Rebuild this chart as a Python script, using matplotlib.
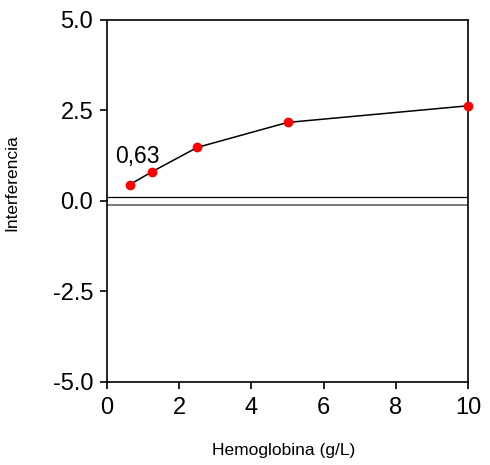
import matplotlib
matplotlib.use('Agg')
import matplotlib.pyplot as plt

plt.rcParams['font.family'] = ['Liberation Sans', 'DejaVu Sans']
plt.rcParams['axes.unicode_minus'] = False

hemoglobina = [0.625, 1.25, 2.5, 5, 10]
interferencia = [0.45, 0.81, 1.48, 2.17, 2.63]
limite_sup = 0.1
limite_inf = -0.1
etiqueta = '0,63'
xticks = [0, 2, 4, 6, 8, 10]
yticks = [-5.0, -2.5, 0.0, 2.5, 5.0]

fig = plt.figure(figsize=(4.9, 4.65), dpi=100)
ax = fig.add_axes([0.2184, 0.1785, 0.7368, 0.7785])

ax.axhline(limite_sup, color='black', lw=0.9)
ax.axhline(limite_inf, color='#707070', lw=1.3)
ax.plot(hemoglobina, interferencia, color='black', lw=1.1, marker='o',
        markersize=6, markerfacecolor='red', markeredgecolor='red', clip_on=False, zorder=3)
ax.text(0.83, 1.23, etiqueta, fontsize=16.5, ha='center', va='center')

ax.set_xlim(0, 10)
ax.set_ylim(-5, 5)
ax.set_xticks(xticks)
ax.set_yticks(yticks)
ax.set_yticklabels(['%.1f' % v for v in yticks])
ax.tick_params(direction='out', length=5, width=1.2, labelsize=17)
ax.tick_params(axis='x', pad=6)
ax.tick_params(axis='y', pad=5)
for s in ax.spines.values():
    s.set_linewidth(1.2)

ax.set_xlabel('Hemoglobina (g/L)', fontsize=12.5)
ax.set_ylabel('Interferencia', fontsize=12.5)
ax.xaxis.set_label_coords(0.488, -0.168)
ax.yaxis.set_label_coords(-0.244, 0.552)

fig.savefig('out.png', dpi=100)
